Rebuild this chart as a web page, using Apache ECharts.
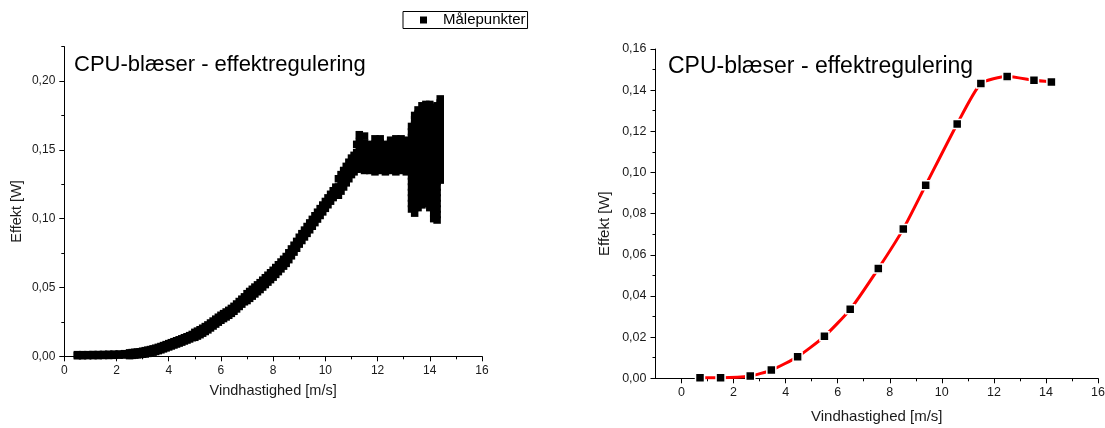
<!DOCTYPE html>
<html><head><meta charset="utf-8">
<script src="https://cdn.jsdelivr.net/npm/echarts@6/dist/echarts.min.js"></script>
<style>html,body{margin:0;padding:0;background:#fff}#c{width:1105px;height:428px}</style>
</head><body><div id="c"></div>
<script>
// ---- texts ----
const titleText = 'CPU-blæser - effektregulering';
const xAxisName = 'Vindhastighed [m/s]';
const yAxisName = 'Effekt [W]';
const legendName = 'Målepunkter';

// ---- tick values ----
const leftXMajor = [0, 2, 4, 6, 8, 10, 12, 14, 16];
const leftYMajor = [0, 0.05, 0.10, 0.15, 0.20];
const leftYMinor = [0.025, 0.075, 0.125, 0.175, 0.225];
const rightXMajor = [0, 2, 4, 6, 8, 10, 12, 14, 16];
const rightXMinor = [1, 3, 5, 7, 9, 11, 13, 15];
const rightYMajor = [0, 0.02, 0.04, 0.06, 0.08, 0.10, 0.12, 0.14, 0.16];

// ---- left chart: measured points (wind speed column -> power values read in that column) ----
const measuredWind = [0.5,0.7,0.9,1.1,1.3,1.5,1.7,1.9,2.1,2.3,
  2.5,2.6,2.7,2.8,2.9,3.0,3.1,3.2,3.3,3.4,3.5,3.6,3.7,3.8,3.9,4.0,4.1,4.2,4.3,4.4,4.5,4.6,4.7,4.8,4.9,
  5.0,5.1,5.2,5.3,5.4,5.5,5.6,5.7,5.8,5.9,6.0,6.1,6.2,6.3,6.4,6.5,6.6,6.7,6.8,6.9,
  7.0,7.1,7.2,7.3,7.4,7.5,7.6,7.7,7.8,7.9,8.0,8.1,8.2,8.3,8.4,8.5,8.6,8.7,8.8,8.9,
  9.0,9.1,9.2,9.3,9.4,9.5,9.6,9.7,9.8,9.9,10.0,10.1,10.2,10.3,10.4,10.5,10.6,10.7,10.8,10.9,
  11.0,11.1,11.2,11.3,11.5,11.7,11.9,12.1,12.3,12.5,12.7,12.9,13.1,
  13.3,13.42,13.55,13.7,13.85,14.0,14.15,14.28,14.4];
const measuredPower = [
  [0.0004,0.0012],[0.0004,0.0012],[0.0005,0.0012],[0.0005,0.0013],[0.0005,0.0013],[0.0006,0.0014],
  [0.0006,0.0015],[0.0007,0.0016],[0.0008,0.0017],[0.0009,0.0019],
  [0.0005,0.0025],[0.0007,0.0027],[0.0009,0.0029],[0.0011,0.0031],[0.0013,0.0033],[0.0015,0.0037],
  [0.0017,0.0041],[0.0021,0.0045],[0.0025,0.0049],[0.003,0.0054],[0.0035,0.0059],[0.0041,0.0065],
  [0.0047,0.0071],[0.0054,0.0078],[0.0061,0.0085],[0.0068,0.0092],[0.0075,0.0099],[0.0082,0.0106],
  [0.0089,0.0113],[0.0096,0.012],[0.0103,0.0127],[0.0111,0.0135],[0.0118,0.0142],[0.0126,0.015],
  [0.0135,0.0159],
  [0.0138,0.0174],[0.0147,0.0183],[0.0157,0.0193],[0.0168,0.0204],[0.018,0.0216],[0.0192,0.0228],
  [0.0206,0.0242],[0.022,0.0256],[0.0234,0.027],[0.0248,0.0284],[0.0262,0.0298],[0.0274,0.031],
  [0.0286,0.0322],[0.0298,0.0334],[0.0312,0.0348],[0.0327,0.0363],[0.0344,0.038],[0.0362,0.0398],
  [0.0379,0.0415],[0.0396,0.0432],
  [0.0405,0.0455],[0.0421,0.0471],[0.0437,0.0487],[0.0453,0.0503],[0.0469,0.0519],[0.0485,0.0535],
  [0.0503,0.0553],[0.0521,0.0571],[0.0539,0.0589],[0.0557,0.0607],[0.0575,0.0625],[0.0595,0.0645],
  [0.0615,0.0665],[0.0635,0.0685],[0.0655,0.0705],[0.0675,0.0725],[0.0702,0.0752],[0.073,0.078],
  [0.0757,0.0807],[0.0785,0.0835],
  [0.0815,0.0865],[0.0841,0.0891],[0.0867,0.0917],[0.0893,0.0943],[0.0919,0.0969],[0.0945,0.0995],
  [0.0971,0.1021],[0.0997,0.1047],[0.1023,0.1073],[0.1049,0.1099],[0.1075,0.1125],[0.1101,0.1151],
  [0.1127,0.1177],[0.1153,0.1203],[0.1179,0.1229],[0.117,0.123,0.129],[0.12,0.126,0.132],
  [0.123,0.129,0.135],[0.126,0.132,0.138],[0.129,0.135,0.141],
  [0.132,0.138,0.144],[0.134,0.14,0.146],[0.136,0.142,0.148,0.154],
  [0.136,0.14,0.144,0.148,0.152,0.156,0.161],[0.135,0.139,0.143,0.147,0.151,0.155,0.16],
  [0.135,0.139,0.143,0.147,0.151,0.154],[0.134,0.138,0.142,0.146,0.15,0.154,0.158],
  [0.135,0.139,0.143,0.147,0.151,0.155,0.158],[0.134,0.138,0.142,0.146,0.15,0.154],
  [0.135,0.139,0.143,0.147,0.151,0.155,0.157],[0.134,0.138,0.142,0.146,0.15,0.154,0.158],
  [0.135,0.139,0.143,0.147,0.151,0.155,0.158],[0.134,0.138,0.142,0.146,0.15,0.154,0.157],
  [0.107,0.111,0.115,0.119,0.123,0.127,0.131,0.135,0.139,0.143,0.147,0.151,0.155,0.159,0.163,0.167],
  [0.104,0.108,0.112,0.116,0.12,0.124,0.128,0.132,0.136,0.14,0.144,0.148,0.152,0.156,0.16,0.164,0.168,0.172,0.175],
  [0.108,0.112,0.116,0.12,0.124,0.128,0.132,0.136,0.14,0.144,0.148,0.152,0.156,0.16,0.164,0.168,0.172,0.176,0.179],
  [0.11,0.114,0.118,0.122,0.126,0.13,0.134,0.138,0.142,0.146,0.15,0.154,0.158,0.162,0.166,0.17,0.174,0.178,0.182],
  [0.111,0.115,0.119,0.123,0.127,0.131,0.135,0.139,0.143,0.147,0.151,0.155,0.159,0.163,0.167,0.171,0.175,0.179,0.183],
  [0.108,0.112,0.116,0.12,0.124,0.128,0.132,0.136,0.14,0.144,0.148,0.152,0.156,0.16,0.164,0.168,0.172,0.176,0.18,0.183],
  [0.1,0.104,0.108,0.112,0.116,0.12,0.124,0.128,0.132,0.136,0.14,0.144,0.148,0.152,0.156,0.16,0.164,0.168,0.172,0.176,0.181],
  [0.099,0.103,0.107,0.111,0.115,0.119,0.123,0.127,0.131,0.135,0.139,0.143,0.147,0.151,0.155,0.159,0.163,0.167,0.171,0.175,0.179,0.182],
  [0.128,0.132,0.136,0.14,0.144,0.148,0.152,0.156,0.16,0.164,0.168,0.172,0.176,0.18,0.184,0.187]
];

// ---- right chart: averaged points ----
const avgWind  = [0.71,1.50,2.64,3.45,4.46,5.49,6.48,7.56,8.52,9.38,10.59,11.50,12.51,13.54,14.21];
const avgPower = [0.0003,0.0003,0.0011,0.0040,0.0105,0.0204,0.0335,0.0533,0.0726,0.0938,0.1236,0.1432,0.1466,0.1448,0.1440];

// ---- build ----
const FONT = 'Liberation Sans, Arial, sans-serif';
const TXT = '#1a1a1a';
const comma2 = v => Number(v).toFixed(2).replace('.', ',');
const leftData = [];
measuredWind.forEach((x, i) => measuredPower[i].forEach(y => leftData.push([x, y])));
const rightData = avgWind.map((x, i) => [x, avgPower[i]]);

const axLine = { show: true, onZero: false, lineStyle: { color: '#000', width: 1 } };
function baseX(grid, fs) {
  return {
    type: 'value', gridIndex: grid, position: 'bottom',
    axisLine: axLine,
    axisTick: { show: true, inside: false, length: 5, lineStyle: { color: '#000' } },
    splitLine: { show: false },
    axisLabel: { fontSize: fs, color: TXT, fontFamily: FONT, margin: 8 },
    name: xAxisName, nameLocation: 'middle',
    nameTextStyle: { fontSize: fs + 2.5, color: TXT, fontFamily: FONT }
  };
}
function baseY(grid, fs) {
  return {
    type: 'value', gridIndex: grid, position: 'left',
    axisLine: axLine,
    axisTick: { show: true, inside: false, length: 5, lineStyle: { color: '#000' } },
    splitLine: { show: false },
    axisLabel: { fontSize: fs, color: TXT, fontFamily: FONT, margin: 9, formatter: comma2 },
    name: yAxisName, nameLocation: 'middle', nameRotate: 90,
    nameTextStyle: { fontSize: fs + 2.5, color: TXT, fontFamily: FONT, padding: [0, 20, 0, 0] }
  };
}
function helper(grid, min, max, ticks, pos) {
  return {
    type: 'value', gridIndex: grid, position: pos, min: min, max: max,
    axisLine: { show: false, onZero: false },
    axisTick: { show: true, inside: false, length: 3, customValues: ticks, lineStyle: { color: '#000' } },
    axisLabel: { show: false }, splitLine: { show: false }, silent: true
  };
}

const xL = Object.assign(baseX(0, 12), {
  min: 0, max: 16, interval: 2, nameGap: 27,
  minorTick: { show: true, splitNumber: 2, length: 3, lineStyle: { color: '#000' } }
});
const xR = Object.assign(baseX(1, 12.5), { min: -1, max: 16, interval: 1, nameGap: 31 });
xR.axisTick.customValues = rightXMajor;
xR.axisLabel.customValues = rightXMajor;

const yL = Object.assign(baseY(0, 12), { min: 0, max: 0.225, interval: 0.025, nameGap: 40 });
yL.axisTick.customValues = leftYMajor;
yL.axisLabel.customValues = leftYMajor;
const yR = Object.assign(baseY(1, 12.5), {
  min: 0, max: 0.16, interval: 0.02, nameGap: 43,
  minorTick: { show: true, splitNumber: 2, length: 3, lineStyle: { color: '#000' } }
});

const option = {
  animation: false,
  backgroundColor: '#fff',
  title: [
    { text: titleText, left: 74, top: 54, padding: 0,
      textStyle: { fontSize: 22, fontWeight: 'normal', color: '#000', fontFamily: FONT } },
    { text: titleText, left: 668, top: 55.5, padding: 0,
      textStyle: { fontSize: 23, fontWeight: 'normal', color: '#000', fontFamily: FONT } }
  ],
  legend: {
    data: [legendName], left: 403, top: 11.5, orient: 'horizontal',
    borderColor: '#000', borderWidth: 1, borderRadius: 0, padding: [1, 2, 1, 17],
    itemWidth: 7, itemHeight: 7, icon: 'rect',
    textStyle: { fontSize: 15, color: '#000', fontFamily: FONT, padding: [0, 0, 0, 11] }
  },
  grid: [
    { left: 64.3, top: 46.6, right: 1105 - 482, bottom: 428 - 356.3, containLabel: false, outerBoundsMode: 'none' },
    { left: 655.5, top: 49, right: 1105 - 1098, bottom: 428 - 378.3, containLabel: false, outerBoundsMode: 'none' }
  ],
  xAxis: [xL, xR, helper(1, -1, 16, rightXMinor, 'bottom')],
  yAxis: [yL, helper(0, 0, 0.225, leftYMinor, 'left'), yR],
  series: [
    { name: legendName, type: 'scatter', xAxisIndex: 0, yAxisIndex: 0, data: leftData,
      symbol: 'rect', symbolSize: 7.5, itemStyle: { color: '#000', opacity: 1 }, silent: true },
    { name: 'Middel', type: 'line', xAxisIndex: 1, yAxisIndex: 2, data: rightData,
      smooth: 0.2,
      lineStyle: { color: '#ff0000', width: 3 },
      symbol: 'rect', symbolSize: 9, showAllSymbol: true,
      itemStyle: { color: '#000', borderColor: '#ffffff', borderWidth: 1.5 }, silent: true }
  ]
};
echarts.init(document.getElementById('c'), null, { renderer: 'canvas' }).setOption(option);
</script></body></html>
